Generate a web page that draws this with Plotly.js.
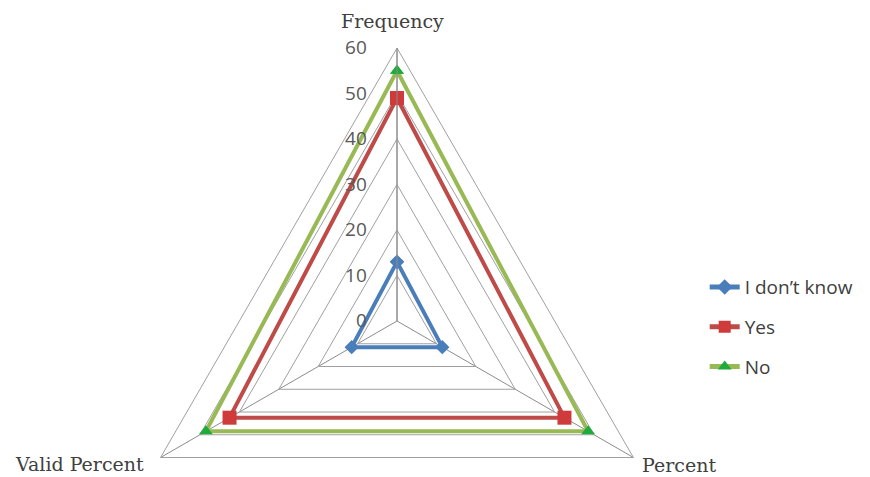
<!DOCTYPE html>
<html>
<head>
<meta charset="utf-8">
<script src="https://cdn.plot.ly/plotly-3.0.1.min.js"></script>
<style>
html,body{margin:0;padding:0;overflow:hidden;background:#fff;}
#chart{width:870px;height:600px;}
</style>
</head>
<body>
<div id="chart"></div>
<script>
var categories = ["Frequency", "Percent", "Valid Percent"];
var seriesNames = ["I don’t know", "Yes", "No"];
var dontKnow = [13, 11.5, 11.5];
var yes = [49, 42.5, 42.5];
var no = [55, 48.5, 48.5];
var radialTicks = [0, 10, 20, 30, 40, 50, 60];

function closeLoop(a){ return a.concat([a[0]]); }

var H = 600;
var colors = ["#4a7ebb", "#be4b48", "#98b954"];
var markerColors = ["#4a7ebb", "#cf3a3a", "#1faa3c"];
var symbols = ["diamond", "square", "triangle-up"];
var sizes = [11, 14, 12];
var values = [dontKnow, yes, no];

var traces = values.map(function(v, i){
  return {
    type: "scatterpolar",
    r: closeLoop(v),
    theta: closeLoop(categories),
    name: seriesNames[i],
    legendgroup: "g" + i,
    mode: "lines+markers",
    line: {color: colors[i], width: 4},
    marker: {symbol: symbols[i], size: sizes[i], color: markerColors[i]},
    cliponaxis: false
  };
});

// category label placement (paper pixels from top-left)
var labelPos = [
  {x: 392, y: 21, xanchor: "center"},
  {x: 640, y: 465, xanchor: "left"},
  {x: 146, y: 464, xanchor: "right"}
];
var annotations = categories.map(function(c, i){
  return {
    text: c, showarrow: false,
    xref: "paper", yref: "paper",
    x: labelPos[i].x / 870, y: 1 - labelPos[i].y / H,
    xanchor: labelPos[i].xanchor, yanchor: "middle",
    font: {family: "DejaVu Serif, Liberation Serif, serif", size: 19, color: "#404040"}
  };
});

var layout = {
  width: 870, height: H,
  margin: {l: 0, r: 0, t: 0, b: 0},
  paper_bgcolor: "#fff",
  showlegend: true,
  annotations: annotations,
  legend: {
    x: 0.81, y: 0.553, xanchor: "left", yanchor: "top",
    font: {family: "Open Sans, Noto Sans, sans-serif", size: 19, color: "#404040"},
    tracegroupgap: 12, itemsizing: "constant",
    bgcolor: "rgba(0,0,0,0)"
  },
  polar: {
    domain: {x: [124/870, 670/870], y: [6/H, 552/H]},
    gridshape: "linear",
    bgcolor: "rgba(0,0,0,0)",
    radialaxis: {
      range: [0, 60],
      tickvals: radialTicks,
      ticktext: radialTicks.map(String),
      angle: 90,
      side: "counterclockwise",
      tickangle: 90,
      showline: true,
      linecolor: "#8c8c8c",
      linewidth: 1,
      gridcolor: "#a0a0a0",
      gridwidth: 1,
      ticks: "outside",
      ticklen: 23,
      tickcolor: "rgba(0,0,0,0)",
      tickfont: {family: "Open Sans, Noto Sans, sans-serif", size: 19, color: "#595959"}
    },
    angularaxis: {
      direction: "clockwise",
      rotation: 90,
      categoryorder: "array",
      categoryarray: categories,
      showline: true,
      linecolor: "#a0a0a0",
      linewidth: 1,
      gridcolor: "#8c8c8c",
      gridwidth: 1,
      ticks: "",
      showticklabels: false
    }
  }
};

Plotly.newPlot("chart", traces, layout, {displayModeBar: false, staticPlot: true});
</script>
</body>
</html>
